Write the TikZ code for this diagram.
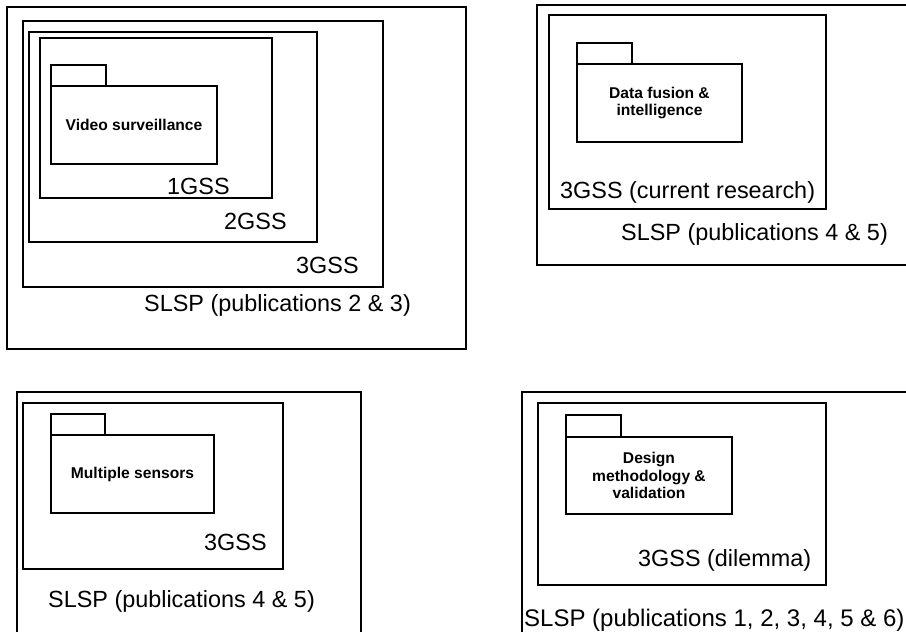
\documentclass[tikz,border=0pt]{standalone}
\usepackage{fontspec}
\setmainfont{Liberation Sans}
\usetikzlibrary{fit}
\begin{document}
\begin{tikzpicture}[x=1pt,y=-1pt,
  frame/.style={draw=black, line width=1.3pt, rectangle, inner sep=0pt},
  pkgtitle/.style={font=\fontsize{15.6}{17.5}\selectfont\bfseries, align=center, inner sep=0pt},
  caption/.style={font=\fontsize{23.4}{28}\selectfont, anchor=base west, inner sep=0pt}]
\useasboundingbox (0,0) rectangle (906,632);
\fill[white] (0,0) rectangle (906,632);
\clip (0,0) rectangle (906,632);

% Video surveillance: nested generations inside the SLSP
\node[frame, fit={(7,7) (466,349)}] (slspA) {};
\node[frame, fit={(23,21) (383,287)}] (genthreeA) {};
\node[frame, fit={(29,32) (317,242)}] (gentwoA) {};
\node[frame, fit={(40,38) (272,198)}] (genoneA) {};
\node[frame, fit={(51,65) (106,86)}] (tabA) {};
\node[frame, fit={(51,86) (217,164)}] (pkgA) {};
\node[pkgtitle] (titleA) at (pkgA.center) {Video surveillance};
\node[caption] (caponeA) at (167,194) {1GSS};
\node[caption] (captwoA) at (224,229) {2GSS};
\node[caption] (capthreeA) at (296,273) {3GSS};
\node[caption] (capslspA) at (144,311) {SLSP (publications 2 \& 3)};

% Data fusion & intelligence
\node[frame, fit={(537,5) (915,265)}] (slspB) {};
\node[frame, fit={(549,15) (826,209)}] (genthreeB) {};
\node[frame, fit={(577,43) (632,64)}] (tabB) {};
\node[frame, fit={(577,64) (742,142)}] (pkgB) {};
\node[pkgtitle] (titleB) at (pkgB.center) {Data fusion \&\\intelligence};
\node[caption] (capthreeB) at (560,198) {3GSS (current research)};
\node[caption] (capslspB) at (621,240) {SLSP (publications 4 \& 5)};

% Multiple sensors
\node[frame, fit={(17,392) (361,645)}] (slspC) {};
\node[frame, fit={(23,403) (283,569)}] (genthreeC) {};
\node[frame, fit={(51,414) (105,435)}] (tabC) {};
\node[frame, fit={(51,435) (214,513)}] (pkgC) {};
\node[pkgtitle] (titleC) at (pkgC.center) {Multiple sensors};
\node[caption] (capthreeC) at (204,550) {3GSS};
\node[caption] (capslspC) at (48,607) {SLSP (publications 4 \& 5)};

% Design methodology & validation
\node[frame, fit={(522,392) (915,645)}] (slspD) {};
\node[frame, fit={(538,403) (826,585)}] (genthreeD) {};
\node[frame, fit={(566,415) (621,437)}] (tabD) {};
\node[frame, fit={(566,437) (732,514)}] (pkgD) {};
\node[pkgtitle] (titleD) at (pkgD.center) {Design\\methodology \&\\validation};
\node[caption] (capthreeD) at (638,566) {3GSS (dilemma)};
\node[caption, font=\fontsize{24}{28}\selectfont] (capslspD) at (524,626) {SLSP (publications 1, 2, 3, 4, 5 \& 6)};
\end{tikzpicture}
\end{document}
